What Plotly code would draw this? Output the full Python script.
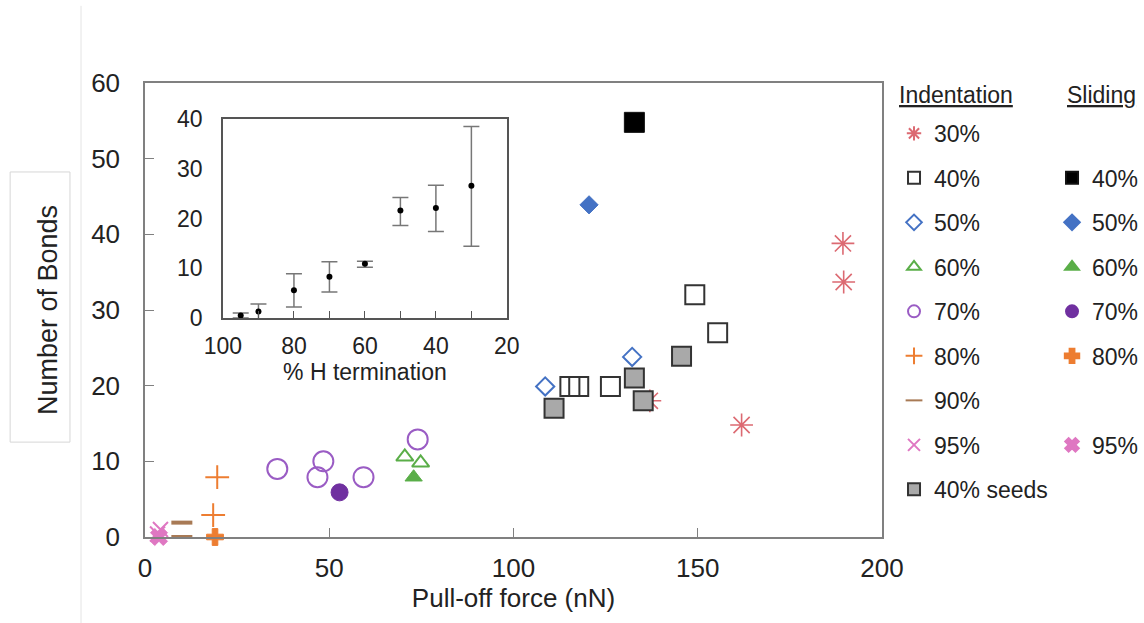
import plotly.graph_objects as go

# ---------------- data ----------------
ind30_x = [189.4, 189.6, 161.9, 137.0]
ind30_y = [38.8, 33.7, 14.8, 18.0]
ind40_x = [149.2, 155.4, 126.3, 115.3, 117.7]
ind40_y = [32.0, 27.0, 19.9, 19.9, 19.9]
ind50_x = [132.2, 108.6]
ind50_y = [23.8, 19.9]
ind60_x = [70.5, 74.8]
ind60_y = [10.6, 9.8]
ind70_x = [35.9, 48.4, 46.8, 59.3, 74.0]
ind70_y = [9.0, 10.0, 7.9, 7.9, 12.9]
ind80_x = [19.6, 18.5]
ind80_y = [7.9, 2.9]
ind90_x = [10.0, 10.0]
ind90_y = [1.9, 0.0]
ind95_x = [4.2, 3.4]
ind95_y = [1.0, 0.4]
seeds_x = [145.6, 132.8, 135.2, 111.0]
seeds_y = [23.9, 21.0, 18.0, 17.0]

sl40_x, sl40_y = [132.8], [54.8]
sl50_x, sl50_y = [120.5], [43.9]
sl60_x, sl60_y = [72.9], [7.9]
sl70_x, sl70_y = [52.8], [5.9]
sl80_x, sl80_y = [19.0], [0.0]
sl95_x, sl95_y = [3.8], [0.0]

# inset
h_term = [95, 90, 80, 70, 60, 50, 40, 30]
bonds_mean = [0.5, 1.3, 5.6, 8.3, 10.9, 21.6, 22.1, 26.6]
err_plus = [0.5, 1.5, 3.3, 3.0, 0.5, 2.6, 4.6, 11.9]
err_minus = [0.5, 1.5, 3.4, 3.1, 0.7, 3.0, 4.7, 12.2]

x_ticks = [0, 50, 100, 150, 200]
y_ticks = [0, 10, 20, 30, 40, 50, 60]
inset_x_ticks = [100, 80, 60, 40, 20]
inset_y_ticks = [0, 10, 20, 30, 40]

# ---------------- styles ----------------
RED = "#dc6a72"
BLUE = "#4472c4"
GREEN = "#5aae48"
PURPLE_O = "#9a5cc4"
PURPLE = "#7030a0"
ORANGE = "#ed7d31"
BROWN = "#a87a55"
PINK = "#df77c2"
FONT = "Liberation Sans, Arial, sans-serif"
TXT = "#222222"

fig = go.Figure()


def add(x, y, name, symbol, size, color, fill=None, lw=2, legend="legend"):
    fig.add_trace(go.Scatter(
        x=x, y=y, mode="markers", name=name, legend=legend,
        legendgroup=legend + name, cliponaxis=False,
        marker=dict(symbol=symbol, size=size,
                    color=fill if fill is not None else color,
                    line=dict(color=color, width=lw)),
        xaxis="x", yaxis="y"))


def spacer(legend, key):
    fig.add_trace(go.Scatter(
        x=[None], y=[None], mode="markers", name=" ", legend=legend,
        legendgroup=legend + key,
        marker=dict(color="rgba(0,0,0,0)", size=1, line=dict(width=0)),
        hoverinfo="skip", xaxis="x", yaxis="y"))


# Indentation (legend 1)
add(ind30_x, ind30_y, "30%", "asterisk-open", 19, RED, lw=1.6)
add(ind40_x, ind40_y, "40%", "square-open", 19, "#333333", lw=2)
add(ind50_x, ind50_y, "50%", "diamond-open", 14, BLUE, lw=2)
add(ind60_x, ind60_y, "60%", "triangle-up-open", 15, GREEN, lw=2)
add(ind70_x, ind70_y, "70%", "circle-open", 20, PURPLE_O, lw=2)
add(ind80_x, ind80_y, "80%", "cross-thin-open", 17, ORANGE, lw=2)
add(ind90_x, ind90_y, "90%", "line-ew-open", 15, BROWN, lw=4)
add(ind95_x, ind95_y, "95%", "x-thin-open", 15, PINK, lw=2)
add(seeds_x, seeds_y, "40% seeds", "square", 19, "#333333", fill="#a9a9a9", lw=2)

# Sliding (legend 2)
spacer("legend2", "s30")
add(sl40_x, sl40_y, "40%", "square", 20, "#111111", fill="#000000", lw=1, legend="legend2")
add(sl50_x, sl50_y, "50%", "diamond", 14, BLUE, fill=BLUE, lw=1, legend="legend2")
add(sl60_x, sl60_y, "60%", "triangle-up", 15, GREEN, fill=GREEN, lw=1, legend="legend2")
add(sl70_x, sl70_y, "70%", "circle", 17, PURPLE, fill=PURPLE, lw=1, legend="legend2")
add(sl80_x, sl80_y, "80%", "cross", 14, ORANGE, fill=ORANGE, lw=1, legend="legend2")
spacer("legend2", "s90")
add(sl95_x, sl95_y, "95%", "x", 15, PINK, fill=PINK, lw=1, legend="legend2")

# Inset
fig.add_trace(go.Scatter(
    x=h_term, y=bonds_mean, mode="markers", showlegend=False,
    marker=dict(color="black", size=6),
    error_y=dict(type="data", array=err_plus, arrayminus=err_minus,
                 color="#777777", thickness=1.5, width=8),
    xaxis="x2", yaxis="y2", cliponaxis=False))

legend_common = dict(
    font=dict(family=FONT, size=23, color=TXT),
    bgcolor="rgba(0,0,0,0)", borderwidth=0,
    itemsizing="constant", tracegroupgap=11.6,
    traceorder="grouped", yanchor="top", xanchor="left")

fig.update_layout(
    width=1144, height=623,
    margin=dict(l=145, r=262, t=83, b=86, autoexpand=False),
    paper_bgcolor="white", plot_bgcolor="white",
    font=dict(family=FONT, color=TXT),
    xaxis=dict(range=[0, 200], tickvals=x_ticks, ticks="inside", ticklen=9,
               tickcolor="#808080", showline=True, mirror=True,
               linecolor="#808080", linewidth=1.5, showgrid=False, zeroline=False,
               tickfont=dict(size=26, color=TXT), ticklabelstandoff=7,
               title=dict(text="Pull-off force (nN)", font=dict(size=26, color=TXT),
                          standoff=0)),
    yaxis=dict(range=[0, 60], tickvals=y_ticks, ticks="inside", ticklen=9,
               tickcolor="#808080", showline=True, mirror=True,
               linecolor="#808080", linewidth=1.5, showgrid=False, zeroline=False,
               tickfont=dict(size=26, color=TXT), ticklabelstandoff=18,
               title=dict(text="Number of Bonds", font=dict(size=27, color=TXT),
                          standoff=26)),
    xaxis2=dict(domain=[0.1058, 0.491], anchor="y2", range=[100, 20],
                tickvals=inset_x_ticks, ticks="inside", ticklen=7, tickcolor="#555555",
                minor=dict(dtick=10, ticks="inside", ticklen=7, tickcolor="#555555"),
                showline=True, mirror=True, linecolor="#555555", linewidth=1.5,
                showgrid=False, zeroline=False,
                tickfont=dict(size=23, color=TXT), ticklabelstandoff=7,
                title=dict(text="% H termination", font=dict(size=23, color=TXT),
                           standoff=2)),
    yaxis2=dict(domain=[0.4824, 0.9207], anchor="x2", range=[0, 40],
                tickvals=inset_y_ticks, ticks="", showline=True, mirror=True,
                linecolor="#555555", linewidth=1.5, showgrid=False, zeroline=False,
                tickfont=dict(size=23, color=TXT), ticklabelstandoff=14),
    legend=dict(x=1.0163, y=0.9363, **legend_common),
    legend2=dict(x=1.2307, y=0.9363, **legend_common),
    annotations=[
        dict(text='<span style="text-decoration:underline">Indentation</span>',
             xref="paper", yref="paper", x=1.1004, y=0.9736, showarrow=False,
             xanchor="center", yanchor="middle",
             font=dict(family=FONT, size=23, color=TXT)),
        dict(text='<span style="text-decoration:underline">Sliding</span>',
             xref="paper", yref="paper", x=1.2985, y=0.9736, showarrow=False,
             xanchor="center", yanchor="middle",
             font=dict(family=FONT, size=23, color=TXT)),
    ],
    shapes=[
        dict(type="rect", xref="paper", yref="paper", x0=-0.183, x1=-0.1018,
             y0=0.209, y1=0.804, line=dict(color="#d6d6d6", width=1)),
        dict(type="line", xref="paper", yref="paper", x0=-0.0868, x1=-0.0868,
             y0=-0.19, y1=1.17, line=dict(color="#e4e4e4", width=1)),
    ],
)

fig.write_html("out.html")
